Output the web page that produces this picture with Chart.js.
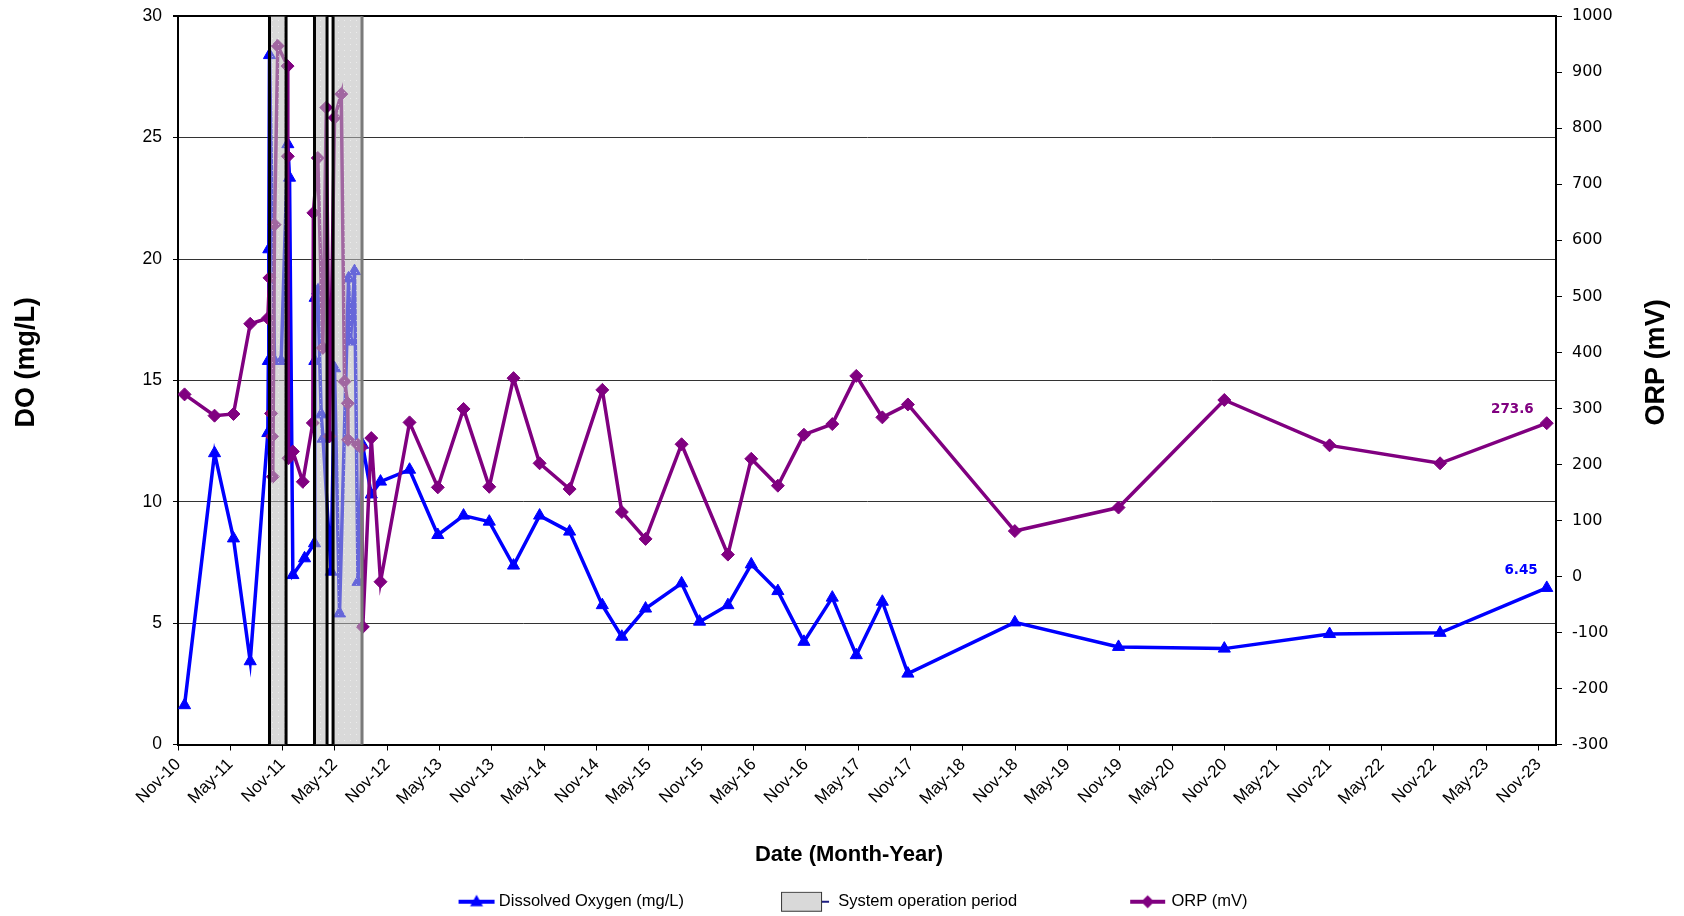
<!DOCTYPE html>
<html>
<head>
<meta charset="utf-8">
<title>DO / ORP</title>
<script src="https://cdn.jsdelivr.net/npm/chart.js@4.4.1/dist/chart.umd.min.js"></script>
<style>
  html, body { margin: 0; padding: 0; background: #fff; }
  canvas { display: block; }
</style>
</head>
<body>
<canvas id="do_orp" width="1684" height="916"></canvas>
<script>
  // x values are months counted from Nov-2010
  const xTickLabels = ["Nov-10", "May-11", "Nov-11", "May-12", "Nov-12", "May-13", "Nov-13", "May-14", "Nov-14",
    "May-15", "Nov-15", "May-16", "Nov-16", "May-17", "Nov-17", "May-18", "Nov-18", "May-19", "Nov-19",
    "May-20", "Nov-20", "May-21", "Nov-21", "May-22", "Nov-22", "May-23", "Nov-23"];

  // dissolved oxygen (mg/L)
  const doMonths = [0.75, 4.19, 6.36, 8.28, 10.30, 10.36, 10.41, 10.49, 11.07, 11.83, 12.59, 12.79, 13.17, 14.51,
    15.65, 15.69, 15.73, 16.03, 16.42, 16.63, 17.55, 17.95, 18.52, 19.55, 19.78, 20.24, 20.64, 21.16, 22.16, 23.22,
    26.55, 29.79, 32.74, 35.69, 38.47, 41.46, 44.90, 48.65, 50.89, 53.61, 57.74, 59.80, 63.05, 65.73, 68.78, 71.77,
    75.02, 77.77, 80.76, 83.69, 95.95, 107.84, 119.97, 132.04, 144.71, 156.94];
  const doValues = [1.62, 12.0, 8.49, 3.43, 12.83, 15.8, 20.4, 28.4, 15.8, 15.8, 24.73, 23.35, 6.98, 7.67,
    8.29, 15.8, 18.4, 18.7, 13.6, 12.6, 7.12, 15.5, 5.4, 19.2, 16.6, 19.5, 6.7, 12.35, 10.3, 10.83,
    11.32, 8.63, 9.43, 9.18, 7.37, 9.43, 8.77, 5.74, 4.44, 5.6, 6.64, 5.06, 5.74, 7.42, 6.32, 4.23,
    6.05, 3.68, 5.88, 2.92, 5.03, 4.02, 3.95, 4.55, 4.6, 6.45];

  // ORP (mV)
  const orpMonths = [0.75, 4.19, 6.36, 8.28, 10.30, 10.49, 10.67, 10.78, 10.87, 11.07, 11.44, 12.56, 12.59, 12.67,
    13.17, 14.31, 15.46, 15.52, 16.03, 16.61, 17.00, 17.37, 17.95, 18.72, 19.09, 19.47, 19.50, 20.62, 21.01, 21.19,
    22.16, 23.22, 26.55, 29.79, 32.74, 35.69, 38.47, 41.46, 44.90, 48.65, 50.89, 53.61, 57.74, 63.05, 65.73, 68.78,
    71.77, 75.02, 77.77, 80.76, 83.69, 95.95, 107.84, 119.97, 132.04, 144.71, 156.94];
  const orpValues = [325, 287, 290, 451, 461, 533, 291, 250, 178, 628, 947, 911, 750, 211,
    223, 169, 274, 649, 747, 408, 837, 250, 819, 861, 348, 309, 244, 235, 230, -90,
    247, -9.5, 275, 159, 299, 160, 354, 202, 156, 333, 115, 67, 236, 39, 210, 162,
    253, 272, 358, 284, 307, 81, 123, 315, 234, 202, 273.6];

  // system operation periods (months)
  const bandStart = [10.49, 15.65, 17.78];
  const bandEnd = [12.39, 17.09, 21.10];

  const doColor = "#0000ff";
  const orpColor = "#800080";

  // legend symbols (line + marker, shaded box)
  function legendSymbol(draw) {
    const c = document.createElement("canvas");
    c.width = 170;
    c.height = 26;
    draw(c.getContext("2d"));
    return c;
  }
  const doSymbol = legendSymbol(function (g) {
    g.strokeStyle = doColor;
    g.lineWidth = 4;
    g.beginPath(); g.moveTo(125, 13); g.lineTo(161, 13); g.stroke();
    g.fillStyle = doColor;
    g.beginPath(); g.moveTo(143, 6); g.lineTo(149.5, 17.5); g.lineTo(136.5, 17.5); g.closePath(); g.fill();
  });
  const bandSymbol = legendSymbol(function (g) {
    g.fillStyle = "#d9d9d9";
    g.fillRect(108, 3, 41, 20);
    g.strokeStyle = "#333";
    g.lineWidth = 1;
    g.strokeRect(108.5, 3.5, 40, 19);
    g.strokeStyle = "#1c1c80";
    g.lineWidth = 2;
    g.beginPath(); g.moveTo(149, 13); g.lineTo(156, 13); g.stroke();
  });
  const orpSymbol = legendSymbol(function (g) {
    g.strokeStyle = orpColor;
    g.lineWidth = 4;
    g.beginPath(); g.moveTo(124, 13); g.lineTo(159, 13); g.stroke();
    g.fillStyle = orpColor;
    g.beginPath(); g.moveTo(141.5, 6.5); g.lineTo(148, 13); g.lineTo(141.5, 19.5); g.lineTo(135, 13); g.closePath(); g.fill();
  });

  // shaded operation periods drawn over the lines
  function bandPattern(ctx) {
    const p = document.createElement("canvas");
    p.width = 6;
    p.height = 6;
    const g = p.getContext("2d");
    g.fillStyle = "rgba(185,185,185,0.55)";
    g.fillRect(0, 0, 6, 6);
    g.fillStyle = "rgba(255,255,255,0.5)";
    g.fillRect(2, 2, 1, 1);
    return ctx.createPattern(p, "repeat");
  }
  const bandPlugin = {
    id: "operationBands",
    afterDatasetsDraw(chart) {
      const { ctx, chartArea, scales } = chart;
      ctx.save();
      ctx.fillStyle = bandPattern(ctx);
      for (let i = 0; i < bandStart.length; i++) {
        const x1 = scales.x.getPixelForValue(bandStart[i]);
        const x2 = scales.x.getPixelForValue(bandEnd[i]);
        ctx.fillRect(x1, chartArea.top, x2 - x1, chartArea.bottom - chartArea.top);
        ctx.lineWidth = 3;
        ctx.strokeStyle = "#000";
        ctx.beginPath(); ctx.moveTo(x1, chartArea.top); ctx.lineTo(x1, chartArea.bottom); ctx.stroke();
        ctx.strokeStyle = i === bandStart.length - 1 ? "#7a7a7a" : "#000";
        ctx.beginPath(); ctx.moveTo(x2, chartArea.top); ctx.lineTo(x2, chartArea.bottom); ctx.stroke();
      }
      ctx.restore();
    }
  };

  // labels on the last points
  const valueLabels = {
    id: "valueLabels",
    afterDatasetsDraw(chart) {
      const ctx = chart.ctx;
      const doMeta = chart.getDatasetMeta(0);
      const orpMeta = chart.getDatasetMeta(1);
      const pDo = doMeta.data[doMeta.data.length - 1];
      const pOrp = orpMeta.data[orpMeta.data.length - 1];
      ctx.save();
      ctx.font = "bold 13.5px 'DejaVu Sans'";
      ctx.textAlign = "right";
      ctx.textBaseline = "middle";
      ctx.fillStyle = doColor;
      ctx.fillText(doValues[doValues.length - 1].toFixed(2), pDo.x - 9, pDo.y - 17);
      ctx.fillStyle = orpColor;
      ctx.fillText(orpValues[orpValues.length - 1].toFixed(1), pOrp.x - 13, pOrp.y - 14);
      ctx.restore();
    }
  };

  // axis titles: both y titles read upwards and sit a bit above centre
  const axisTitles = {
    id: "axisTitles",
    afterDraw(chart) {
      const { ctx, chartArea } = chart;
      const midY = (chartArea.top + chartArea.bottom) / 2 - 18;
      ctx.save();
      ctx.fillStyle = "#000";
      ctx.textAlign = "center";
      ctx.textBaseline = "middle";
      ctx.font = "bold 22px 'Liberation Sans'";
      ctx.fillText("Date (Month-Year)", (chartArea.left + chartArea.right) / 2 - 18, chartArea.bottom + 110);
      ctx.font = "bold 27px 'Liberation Sans'";
      ctx.translate(27, midY);
      ctx.rotate(-Math.PI / 2);
      ctx.fillText("DO (mg/L)", 0, 0);
      ctx.setTransform(1, 0, 0, 1, 0, 0);
      ctx.translate(chart.width - 27, midY);
      ctx.rotate(-Math.PI / 2);
      ctx.fillText("ORP (mV)", 0, 0);
      ctx.restore();
    }
  };

  // legend sits a little left of the page centre
  const legendNudge = {
    id: "legendNudge",
    afterLayout(chart) {
      const l = chart.legend;
      l.left -= 45; l.right -= 45;
      l.top += 4; l.bottom += 4;
    }
  };

  const doPoints = doMonths.map((m, i) => ({ x: m, y: doValues[i] }));
  const orpPoints = orpMonths.map((m, i) => ({ x: m, y: orpValues[i] }));

  new Chart(document.getElementById("do_orp"), {
    type: "line",
    data: {
      datasets: [{
        label: "Dissolved Oxygen (mg/L)",
        data: doPoints,
        yAxisID: "y",
        borderColor: doColor,
        backgroundColor: doColor,
        borderWidth: 3.5,
        pointStyle: "triangle",
        pointRadius: 7,
        pointBorderWidth: 1,
        order: 1
      }, {
        label: "ORP (mV)",
        data: orpPoints,
        yAxisID: "y1",
        borderColor: orpColor,
        backgroundColor: orpColor,
        borderWidth: 3.5,
        pointStyle: "rectRot",
        pointRadius: 6.5,
        pointBorderWidth: 1,
        order: 0
      }]
    },
    options: {
      responsive: false,
      animation: false,
      devicePixelRatio: 1,
      layout: { padding: { top: 10, left: 0, right: 0, bottom: 0 } },
      elements: { line: { tension: 0 } },
      scales: {
        x: {
          type: "linear",
          position: "bottom",
          min: 0,
          max: 158,
          afterBuildTicks: s => { s.ticks = xTickLabels.map((t, i) => ({ value: i * 6 })); },
          afterFit: s => { s.height = 143; },
          border: { color: "#000", width: 2 },
          grid: { drawOnChartArea: false, tickLength: 6, color: "#000" },
          ticks: {
            autoSkip: false, maxRotation: 45, minRotation: 45, padding: 4, color: "#000",
            font: { family: "Liberation Sans", size: 17 },
            callback: (v, i) => xTickLabels[i]
          }
        },
        y: {
          position: "left",
          min: 0,
          max: 30,
          afterFit: s => { s.width = 178; },
          border: { color: "#000", width: 2 },
          grid: {
            color: c => c.tick.value === 30 ? "#000" : "#333",
            lineWidth: c => c.tick.value === 30 ? 2 : 1,
            tickLength: 5,
            tickColor: "#000"
          },
          ticks: { stepSize: 5, padding: 11, color: "#000", font: { family: "Liberation Sans", size: 17.5, lineHeight: 0.6 } }
        },
        y1: {
          position: "right",
          min: -300,
          max: 1000,
          afterFit: s => { s.width = 128; },
          border: { color: "#000", width: 2 },
          grid: { drawOnChartArea: false, tickLength: 6, color: "#000" },
          ticks: {
            stepSize: 100, padding: 10, color: "#000",
            font: { family: "DejaVu Sans", size: 16, lineHeight: 0.6 },
            callback: v => String(v)
          }
        }
      },
      plugins: {
        tooltip: { enabled: false },
        legend: {
          position: "bottom",
          labels: {
            usePointStyle: true,
            pointStyleWidth: 144,
            padding: 2,
            color: "#000",
            font: { family: "Liberation Sans", size: 16.5 },
            generateLabels: () => [
              { text: "Dissolved Oxygen (mg/L)", pointStyle: doSymbol, fillStyle: doColor, strokeStyle: doColor, lineWidth: 0, hidden: false, datasetIndex: 0, fontColor: "#000" },
              { text: "System operation period", pointStyle: bandSymbol, fillStyle: "#d9d9d9", strokeStyle: "#333", lineWidth: 0, hidden: false, fontColor: "#000" },
              { text: "ORP (mV)", pointStyle: orpSymbol, fillStyle: orpColor, strokeStyle: orpColor, lineWidth: 0, hidden: false, datasetIndex: 1, fontColor: "#000" }
            ]
          }
        }
      }
    },
    plugins: [bandPlugin, valueLabels, axisTitles, legendNudge]
  });
</script>
</body>
</html>
